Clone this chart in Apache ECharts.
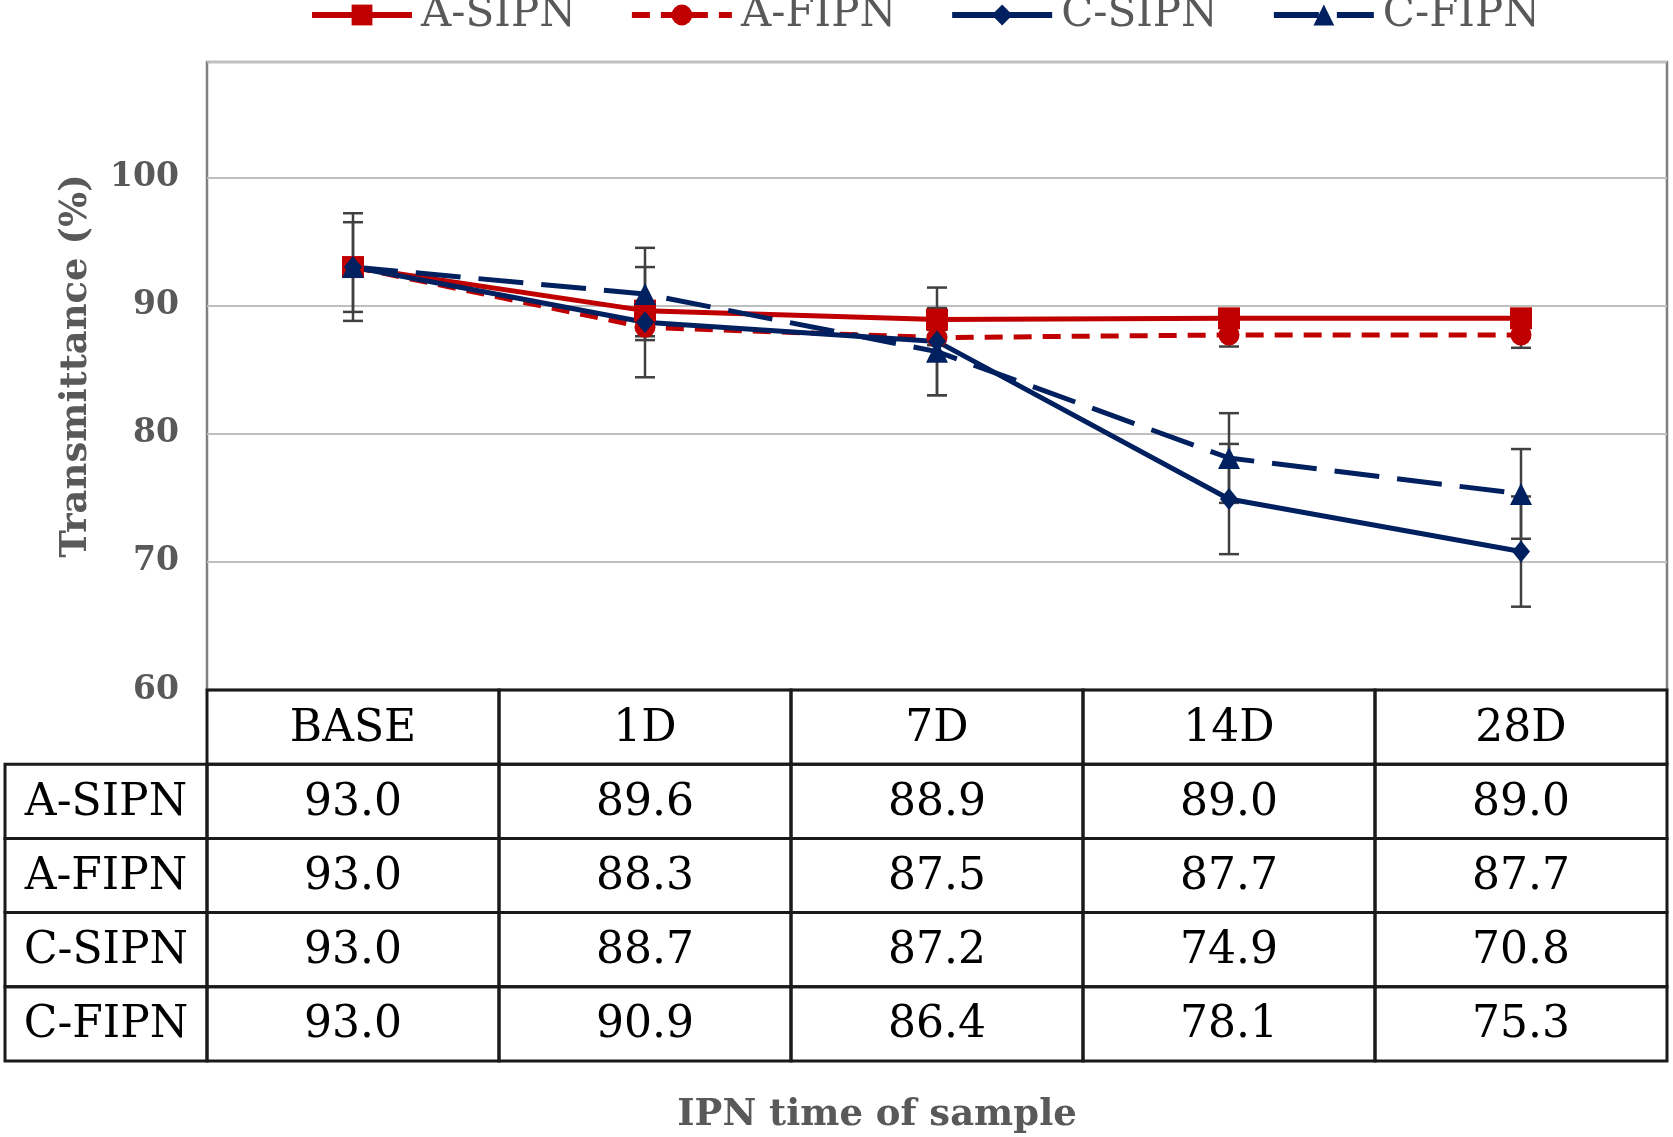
<!DOCTYPE html>
<html><head><meta charset="utf-8">
<script src="https://cdn.jsdelivr.net/npm/echarts/dist/echarts.min.js"></script>
<style>html,body{margin:0;padding:0;background:#fff}#c{width:1673px;height:1137px}</style>
</head><body><div id="c"></div>
<script>
// ---------- data ----------
const categories = ['BASE', '1D', '7D', '14D', '28D'];
const seriesNames = ['A-SIPN', 'A-FIPN', 'C-SIPN', 'C-FIPN'];
const aSipn = [93.0, 89.6, 88.9, 89.0, 89.0];
const aFipn = [93.0, 88.3, 87.5, 87.7, 87.7];
const cSipn = [93.0, 88.7, 87.2, 74.9, 70.8];
const cFipn = [93.0, 90.9, 86.4, 78.1, 75.3];
const aSipnErr = [0.5, 0.6, 0.5, 0.6, 0.6];
const aFipnErr = [0.6, 0.7, 0.6, 0.9, 1.0];
const cSipnErr = [4.2, 4.3, 4.2, 4.3, 4.3];
const cFipnErr = [3.5, 3.6, 3.4, 3.5, 3.5];
const yTickLabels = [60, 70, 80, 90, 100];

// ---------- style constants ----------
const RED = '#C00000', NAVY = '#002060', GRAY_TXT = '#595959';
const ROW_LABEL_W = 202;
const SERIF = '"DejaVu Serif", "Liberation Serif", serif';

// ---------- table cells built from the data ----------
const tableValues = [aSipn, aFipn, cSipn, cFipn];
const cellData = [], cellText = [];
categories.forEach((c, i) => { cellData.push([i, 0, 0]); cellText.push(c); });
tableValues.forEach((arr, r) => {
  cellData.push([0, r + 1, 1]); cellText.push(seriesNames[r]);
  arr.forEach((v, i) => { cellData.push([i, r + 1, 0]); cellText.push(v.toFixed(1)); });
});

function errSeries(vals, errs, name) {
  return {
    type: 'custom', name: name + ' err', xAxisIndex: 0, yAxisIndex: 0, z: 1, silent: true,
    data: vals.map((v, i) => [i, v - errs[i], v + errs[i]]),
    encode: { x: 0, y: [1, 2] },
    renderItem(params, api) {
      const i = api.value(0);
      const lo = api.coord([i, api.value(1)]);
      const hi = api.coord([i, api.value(2)]);
      const x = lo[0], hw = 10;
      const st = { stroke: '#404040', lineWidth: 2.5 };
      return { type: 'group', children: [
        { type: 'line', shape: { x1: x, y1: lo[1], x2: x, y2: hi[1] }, style: st },
        { type: 'line', shape: { x1: x - hw, y1: lo[1], x2: x + hw, y2: lo[1] }, style: st },
        { type: 'line', shape: { x1: x - hw, y1: hi[1], x2: x + hw, y2: hi[1] }, style: st }
      ]};
    }
  };
}

function lineSeries(name, data, color, symbol, size, dash) {
  return {
    name, type: 'line', data, xAxisIndex: 0, yAxisIndex: 0, z: 3,
    symbol, symbolSize: size, showSymbol: true,
    lineStyle: { color, width: 5, type: dash || 'solid' },
    itemStyle: { color },
    emphasis: { disabled: true }
  };
}

const chart = echarts.init(document.getElementById('c'));
chart.setOption({
  animation: false,
  backgroundColor: '#fff',
  title: {
    text: 'IPN time of sample', left: 872, top: 1092, textAlign: 'center',
    textStyle: { fontFamily: SERIF, fontWeight: 'bold', fontSize: 37, color: GRAY_TXT }
  },
  legend: {
    data: seriesNames, left: 309, top: -6, padding: 0,
    itemWidth: 100, itemHeight: 26, itemGap: 53,
    lineStyle: { width: 6 },
    textStyle: { fontFamily: SERIF, fontSize: 42, color: GRAY_TXT, padding: [0, 0, 0, 4] }
  },
  grid: [
    { left: 207, right: 6, top: 62, bottom: 447, show: true, borderColor: '#7f7f7f', borderWidth: 2.5, outerBoundsMode: 'none' },
    { left: 207, right: 6, top: 690, bottom: 76, outerBoundsMode: 'none' }
  ],
  xAxis: [
    { type: 'category', data: categories, gridIndex: 0, boundaryGap: true,
      axisLine: { show: false }, axisTick: { show: false }, axisLabel: { show: false }, splitLine: { show: false } },
    { type: 'category', data: categories, gridIndex: 1, show: false }
  ],
  yAxis: [
    { type: 'value', gridIndex: 0, min: 60, max: 109, interval: 10,
      axisLine: { show: false }, axisTick: { show: false },
      splitLine: { lineStyle: { color: '#bfbfbf', width: 2 } },
      axisLabel: { margin: 28, formatter: v => yTickLabels.includes(v) ? String(v) : '',
        fontFamily: SERIF, fontWeight: 'bold', fontSize: 33, color: GRAY_TXT },
      name: 'Transmittance (%)', nameLocation: 'middle', nameGap: 112, nameRotate: 90,
      nameTextStyle: { fontFamily: SERIF, fontWeight: 'bold', fontSize: 37, color: GRAY_TXT, padding: [0, 0, 0, 20] } },
    { type: 'category', gridIndex: 1, data: ['header'].concat(seriesNames), inverse: true, show: false }
  ],
  series: [
    errSeries(aSipn, aSipnErr, 'A-SIPN'),
    errSeries(aFipn, aFipnErr, 'A-FIPN'),
    errSeries(cSipn, cSipnErr, 'C-SIPN'),
    errSeries(cFipn, cFipnErr, 'C-FIPN'),
    lineSeries('A-SIPN', aSipn, RED, 'rect', 22),
    lineSeries('A-FIPN', aFipn, RED, 'circle', 21, [18, 11]),
    lineSeries('C-SIPN', cSipn, NAVY, 'diamond', [18, 22]),
    lineSeries('C-FIPN', cFipn, NAVY, 'triangle', 22, [45, 18]),
    {
      type: 'custom', name: 'table', xAxisIndex: 1, yAxisIndex: 1, silent: true, clip: false,
      data: cellData,
      encode: { x: 0, y: 1 },
      renderItem(params, api) {
        const c = api.value(0), r = api.value(1), isLabel = api.value(2);
        const p = api.coord([c, r]);
        const s = api.size([1, 1]);
        let x = p[0] - s[0] / 2, w = s[0];
        if (isLabel) { x -= ROW_LABEL_W; w = ROW_LABEL_W; }
        const y = p[1] - s[1] / 2, h = s[1];
        return { type: 'group', children: [
          { type: 'rect', shape: { x, y, width: w, height: h }, style: { fill: 'none', stroke: '#1a1a1a', lineWidth: 3 } },
          { type: 'text', style: { text: cellText[params.dataIndex], x: x + w / 2, y: y + h / 2 + 2,
              align: 'center', verticalAlign: 'middle', textAlign: 'center', textVerticalAlign: 'middle',
              fill: '#000', font: '44px ' + SERIF } }
        ]};
      }
    }
  ]
});
</script>
</body></html>
